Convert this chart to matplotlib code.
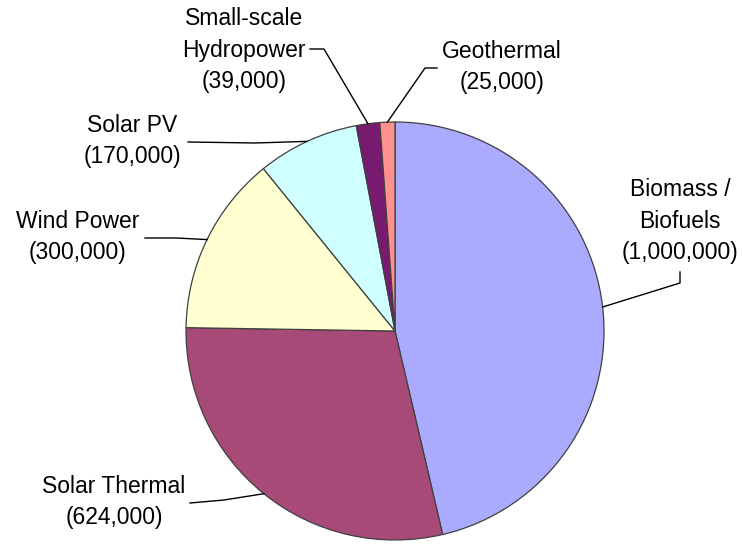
import numpy as np
import matplotlib.pyplot as plt

# jobs by technology, clockwise from 12 o'clock
sources = ['Biomass /\nBiofuels', 'Solar Thermal', 'Wind Power', 'Solar PV',
           'Small-scale\nHydropower', 'Geothermal']
jobs = [1000000, 624000, 300000, 170000, 39000, 25000]
colors = ['#AAAAFF', '#A84A78', '#FFFFD2', '#D0FFFF', '#781A70', '#FF9090']

# label block centres and leader-line elbows (pixel layout)
label_pos = [(680, 221), (114, 502), (78, 237), (132, 141), (244, 50), (502, 67)]
leader_pts = [
    [(680, 272), (680, 283)],
    [(190, 503), (224, 500)],
    [(145, 238), (176, 238)],
    [(188, 142), (255, 143)],
    [(310, 49), (324, 49)],
    [(437, 68), (425, 68)],
]

W, H = 742, 544
cx, cy, r = 395, 331, 209

plt.rcParams['font.family'] = ['Liberation Sans', 'DejaVu Sans']

fig = plt.figure(figsize=(W / 100, H / 100), dpi=100)
ax = fig.add_axes([0, 0, 1, 1])

# y axis runs downward, so startangle -90 is the top and ccw looks clockwise
wedges, _ = ax.pie(jobs, colors=colors, startangle=-90, counterclock=True,
                   center=(cx, cy), radius=r,
                   wedgeprops=dict(edgecolor='#404040', linewidth=0.9))

ax.set_xlim(0, W)
ax.set_ylim(H, 0)
ax.set_aspect('equal')
ax.axis('off')

for w, name, n, (tx, ty), pts in zip(wedges, sources, jobs, label_pos, leader_pts):
    mid = np.deg2rad((w.theta1 + w.theta2) / 2)
    edge = (cx + r * np.cos(mid), cy + r * np.sin(mid))
    xs = [p[0] for p in pts] + [edge[0]]
    ys = [p[1] for p in pts] + [edge[1]]
    ax.plot(xs, ys, color='black', lw=1.0)
    ax.text(tx, ty, f'{name}\n({n:,})', ha='center', va='center',
            multialignment='center', fontsize=16.5, linespacing=1.45)

fig.savefig('out.png', dpi=100)
